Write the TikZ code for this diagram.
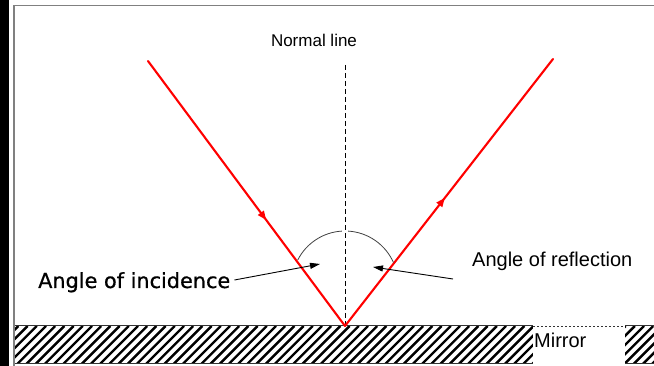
\documentclass[tikz,border=0pt]{standalone}
\usepackage{fontspec}
\setmainfont{Liberation Sans}
\newfontfamily\verdanalike[FakeBold=0.7]{DejaVu Sans}
\usetikzlibrary{arrows.meta,decorations.markings}
\tikzset{
  ray/.style={draw=red, line width=2.1pt, line cap=round},
  midarrow/.style={postaction={decorate},
    decoration={markings, mark=at position #1 with {\arrow{Triangle[length=9pt,width=7pt]}}}},
  normalline/.style={draw=black, line width=1pt, dash pattern=on 5pt off 3pt},
  anglearc/.style={draw=black!75, line width=0.8pt},
  pointer/.style={draw=black, line width=0.9pt, -{Triangle[length=10pt,width=6pt]}},
  lbl/.style={font=\fontsize{20}{23}\selectfont, inner sep=0pt},
}
\begin{document}
\begin{tikzpicture}[x=1pt,y=-1pt]
\useasboundingbox (0,0) rectangle (654,366);
\fill[white] (0,0) rectangle (654,366);
% left black band and frame
\fill[black] (0,0) rectangle (9,366);
\draw[gray, line width=1.6pt] (14,366) -- (14,5.5) -- (654,5.5);
% mirror hatching
\begin{scope}
  \clip (15,326.5) rectangle (654,364);
  \foreach \i in {-40,-30.8,...,700} {
    \draw[black, line width=2.4pt] (\i,366) -- (\i+40,326);
  }
\end{scope}
\draw[black!80, line width=1pt] (15,326) -- (654,326);
\draw[black!80, line width=1pt] (15,364) -- (654,364);
% mirror label box
\fill[white] (533,325.4) rectangle (625,366);
\draw[black!80, line width=0.9pt, dash pattern=on 2pt off 2pt] (533,326) -- (625,326);
\node[lbl, anchor=base west] (mirror) at (534,348) {Mirror};
% points
\coordinate (O) at (345,326);
\coordinate (L) at (148,61);
\coordinate (R) at (553,59);
\coordinate (N) at (345,65);
% normal line
\draw[normalline] (N) -- (O);
\node[inner sep=0pt, anchor=base, font=\fontsize{17}{20}\selectfont] (normal) at (314,47) {Normal line};
% rays
\draw[ray, midarrow=0.6] (L) -- (O);
\draw[ray, midarrow=0.48] (O) -- (R);
% angle arcs
\coordinate (C) at (345,284);
\draw[anglearc] (C) ++(207:53) arc[start angle=207, end angle=266.5, radius=53];
\draw[anglearc] (C) ++(273.5:53) arc[start angle=273.5, end angle=336, radius=53];
% labels
\node[inner sep=0pt, anchor=base west, font=\verdanalike\fontsize{20.8}{24}\selectfont] (inc) at (38,288) {Angle of incidence};
\node[lbl, anchor=base west] (refl) at (472,267) {Angle of reflection};
\coordinate (incT) at (320,264);
\coordinate (refT) at (373,267);
\draw[pointer] ([xshift=4pt]inc.east |- 0,280) -- (incT);
\draw[pointer] (453,279) -- (refT);
\end{tikzpicture}
\end{document}
